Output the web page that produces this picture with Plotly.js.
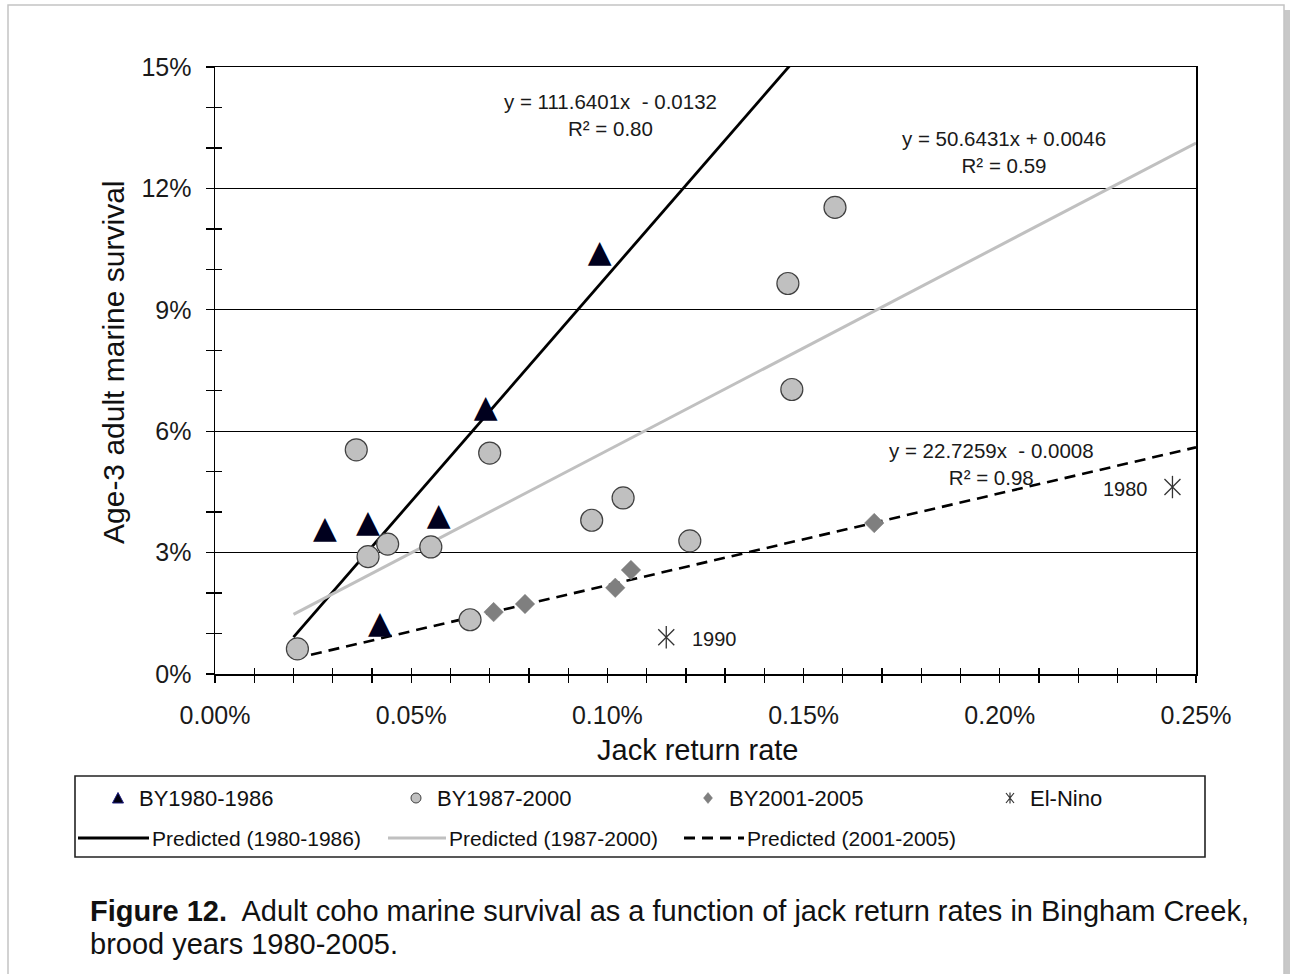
<!DOCTYPE html>
<html>
<head>
<meta charset="utf-8">
<script src="https://cdn.plot.ly/plotly-3.0.1.min.js"></script>
<style>html,body{margin:0;padding:0;background:#fff;}#chart{width:1294px;height:974px;}</style>
</head>
<body>
<div id="chart"></div>
<script>
// ---- data ----
var by8086_x = [0.00028, 0.00039, 0.00042, 0.00057, 0.00069, 0.00098];
var by8086_y = [0.0355, 0.0370, 0.0120, 0.0387, 0.0655, 0.1038];

var by8700_x = [0.00021, 0.00036, 0.00039, 0.00044, 0.00055, 0.00065, 0.00070, 0.00096, 0.00104, 0.00121, 0.00146, 0.00147, 0.00158];
var by8700_y = [0.0062, 0.0554, 0.0290, 0.0321, 0.0314, 0.0134, 0.0546, 0.0380, 0.0435, 0.0329, 0.0965, 0.0703, 0.1153];

var by0105_x = [0.00071, 0.00079, 0.00102, 0.00106, 0.00168];
var by0105_y = [0.0153, 0.0173, 0.0213, 0.0257, 0.0373];

var elnino_x = [0.00115, 0.00244];
var elnino_y = [0.0091, 0.0462];
var elnino_labels = ['1990', '1980'];

var trend_names = ['Predicted (1980-1986)', 'Predicted (1987-2000)', 'Predicted (2001-2005)'];
var trend_slope = [111.6401, 50.6431, 22.7259];
var trend_icpt = [-0.0132, 0.0046, -0.0008];
var trend_r2 = ['0.80', '0.59', '0.98'];
var trend_eq = ['y = 111.6401x  - 0.0132', 'y = 50.6431x + 0.0046', 'y = 22.7259x  - 0.0008'];
var trend_xrange = [0.0002, 0.0025];

var legend_labels = ['BY1980-1986', 'BY1987-2000', 'BY2001-2005', 'El-Nino'];

var x_title = 'Jack return rate';
var y_title = 'Age-3 adult marine survival';
var caption1 = '<b>Figure 12.</b>  Adult coho marine survival as a function of jack return rates in Bingham Creek,';
var caption2 = 'brood years 1980-2005.';

// ---- layout helpers (pixel -> paper) ----
var L = 215, R = 1196, T = 67, B = 674;
function PX(px) { return (px - L) / (R - L); }
function PY(py) { return (B - py) / (B - T); }

var FONT = 'Liberation Sans, Arial, sans-serif';

var traces = [];
var lineStyles = [
  {color: '#000000', width: 2.8, dash: 'solid'},
  {color: '#c0c0c0', width: 3, dash: 'solid'},
  {color: '#000000', width: 2.6, dash: '11px,7px'}
];
for (var i = 0; i < 3; i++) {
  var xs = trend_xrange.slice();
  var ys = xs.map(function (x) { return trend_slope[i] * x + trend_icpt[i]; });
  traces.push({x: xs, y: ys, mode: 'lines', name: trend_names[i], line: lineStyles[i], hoverinfo: 'skip'});
}
traces.push({x: by8700_x, y: by8700_y, mode: 'markers', name: legend_labels[1],
  marker: {symbol: 'circle', size: 22, color: '#c0c0c0', line: {color: '#404040', width: 1.2}}});
traces.push({x: by0105_x, y: by0105_y, mode: 'markers', name: legend_labels[2],
  marker: {symbol: 'diamond', size: 15, color: '#7f7f7f', line: {color: '#7f7f7f', width: 0.5}}});
// triangles drawn as a filled glyph (Excel-like equilateral triangle), positioned by the axes
traces.push({x: by8086_x, y: by8086_y, mode: 'text', name: legend_labels[0],
  text: by8086_x.map(function () { return '▲'; }), textposition: 'middle center',
  textfont: {family: 'DejaVu Sans', size: 31, color: '#00001e'}, hoverinfo: 'skip', cliponaxis: false});
traces.push({x: elnino_x, y: elnino_y, mode: 'markers', name: legend_labels[3],
  marker: {symbol: 'x-thin-open', size: 16, color: '#333', line: {color: '#333', width: 1.3}}});
traces.push({x: elnino_x, y: elnino_y, mode: 'markers', showlegend: false,
  marker: {symbol: 'line-ns-open', size: 16, color: '#333', line: {color: '#333', width: 1.3}}});
// invisible trace to activate overlay axes (inside half of crossing ticks)
traces.push({x: [null], y: [null], xaxis: 'x2', yaxis: 'y2', mode: 'markers', showlegend: false, hoverinfo: 'skip'});

var annotations = [];
var eqPos = [[0.001009, 0.1381], [0.002011, 0.1290], [0.00198, 0.0519]];
for (var j = 0; j < 3; j++) {
  annotations.push({x: eqPos[j][0], y: eqPos[j][1], xref: 'x', yref: 'y', showarrow: false,
    xanchor: 'center', yanchor: 'middle', align: 'center',
    text: trend_eq[j] + '<br>R² = ' + trend_r2[j], font: {family: FONT, size: 20.5, color: '#1a1a1a'}});
}
annotations.push({x: elnino_x[0], y: elnino_y[0], xref: 'x', yref: 'y', showarrow: false,
  xanchor: 'left', yanchor: 'middle', xshift: 24, yshift: -2, text: elnino_labels[0],
  font: {family: FONT, size: 20, color: '#1a1a1a'}});
annotations.push({x: elnino_x[1], y: elnino_y[1], xref: 'x', yref: 'y', showarrow: false,
  xanchor: 'right', yanchor: 'middle', xshift: -22, yshift: -2, text: elnino_labels[1],
  font: {family: FONT, size: 20, color: '#1a1a1a'}});

// axis titles
annotations.push({x: PX(697), y: PY(750), xref: 'paper', yref: 'paper', showarrow: false,
  xanchor: 'center', yanchor: 'middle', text: x_title, font: {family: FONT, size: 29, color: '#111'}});
annotations.push({x: PX(113), y: PY(362), xref: 'paper', yref: 'paper', showarrow: false, textangle: -90,
  xanchor: 'center', yanchor: 'middle', text: y_title, font: {family: FONT, size: 30, color: '#111'}});

// caption
annotations.push({x: PX(88), y: PY(911), xref: 'paper', yref: 'paper', showarrow: false,
  xanchor: 'left', yanchor: 'middle', align: 'left', text: caption1,
  font: {family: FONT, size: 29, color: '#111'}});
annotations.push({x: PX(88), y: PY(944), xref: 'paper', yref: 'paper', showarrow: false,
  xanchor: 'left', yanchor: 'middle', align: 'left', text: caption2,
  font: {family: FONT, size: 29, color: '#111'}});

// manual legend
var row1 = 798, row2 = 838;
var row1TextX = [137, 435, 727, 1028];
for (var k = 0; k < 4; k++) {
  annotations.push({x: PX(row1TextX[k]), y: PY(row1), xref: 'paper', yref: 'paper', showarrow: false,
    xanchor: 'left', yanchor: 'middle', text: legend_labels[k], font: {family: FONT, size: 22, color: '#111'}});
}
var row2TextX = [150, 447, 745];
for (var m = 0; m < 3; m++) {
  annotations.push({x: PX(row2TextX[m]), y: PY(row2), xref: 'paper', yref: 'paper', showarrow: false,
    xanchor: 'left', yanchor: 'middle', text: trend_names[m], font: {family: FONT, size: 21, color: '#111'}});
}

var shapes = [];
// page frame with shadow
shapes.push({type: 'rect', xref: 'paper', yref: 'paper', x0: PX(1284), x1: PX(1290), y0: PY(990), y1: PY(10),
  line: {width: 0}, fillcolor: '#c8c8c8', layer: 'below'});
shapes.push({type: 'rect', xref: 'paper', yref: 'paper', x0: PX(8), x1: PX(1284), y0: PY(990), y1: PY(5),
  line: {width: 1.5, color: '#c4c4c4'}, fillcolor: '#ffffff', layer: 'below'});
// legend box
shapes.push({type: 'rect', xref: 'paper', yref: 'paper', x0: PX(75), x1: PX(1205), y0: PY(857), y1: PY(776),
  line: {width: 1.6, color: '#222'}, fillcolor: 'rgba(0,0,0,0)'});
// legend markers (pixel-sized around anchors)
function pixShape(pxX, pxY, path, fill, lc, lw) {
  return {type: 'path', xref: 'paper', yref: 'paper', xsizemode: 'pixel', ysizemode: 'pixel',
    xanchor: PX(pxX), yanchor: PY(pxY), path: path, fillcolor: fill, line: {color: lc, width: lw}};
}
shapes.push(pixShape(118, row1, 'M-5.5,-5 L5.5,-5 L0,5.5 Z', '#000010', '#1c1c80', 1));
shapes.push({type: 'circle', xref: 'paper', yref: 'paper', xsizemode: 'pixel', ysizemode: 'pixel',
  xanchor: PX(416), yanchor: PY(row1), x0: -5, x1: 5, y0: -5, y1: 5, fillcolor: '#c0c0c0', line: {color: '#404040', width: 1}});
shapes.push(pixShape(708, row1, 'M0,-5.5 L4.5,0 L0,5.5 L-4.5,0 Z', '#7f7f7f', '#7f7f7f', 0.5));
shapes.push(pixShape(1010, row1, 'M-4,-5 L4,5 M-4,5 L4,-5 M0,-5.5 L0,5.5', 'rgba(0,0,0,0)', '#333', 1.2));
// legend line samples
var sampleX = [[78, 149], [388, 446], [684, 744]];
var sampleStyle = [
  {color: '#000', width: 3, dash: 'solid'},
  {color: '#c0c0c0', width: 3, dash: 'solid'},
  {color: '#000', width: 3, dash: '11px,7px'}
];
for (var s = 0; s < 3; s++) {
  shapes.push({type: 'line', xref: 'paper', yref: 'paper', x0: PX(sampleX[s][0]), x1: PX(sampleX[s][1]),
    y0: PY(row2), y1: PY(row2), line: sampleStyle[s]});
}

var layout = {
  width: 1294, height: 974,
  margin: {l: L, r: 1294 - R, t: T, b: 974 - B, pad: 0},
  paper_bgcolor: '#ffffff', plot_bgcolor: 'rgba(0,0,0,0)',
  showlegend: false,
  font: {family: FONT, color: '#1a1a1a'},
  xaxis: {
    range: [0, 0.0025], tick0: 0, dtick: 0.0005, tickformat: '.2%',
    ticks: 'outside', ticklen: 7, tickwidth: 1.3, tickcolor: '#000',
    minor: {dtick: 0.0001, ticks: 'outside', ticklen: 7, tickwidth: 1.3, tickcolor: '#000', showgrid: false},
    showline: true, linecolor: '#000', linewidth: 1.5, mirror: true,
    showgrid: false, zeroline: false,
    tickfont: {family: FONT, size: 25, color: '#1a1a1a'},
    ticklabelstandoff: 11
  },
  yaxis: {
    range: [0, 0.15], tick0: 0, dtick: 0.03, tickformat: '.0%',
    ticks: 'outside', ticklen: 8, tickwidth: 1.3, tickcolor: '#000',
    minor: {dtick: 0.01, ticks: 'outside', ticklen: 8, tickwidth: 1.3, tickcolor: '#000', showgrid: false},
    showline: true, linecolor: '#000', linewidth: 1.5, mirror: true,
    showgrid: true, gridcolor: '#000', gridwidth: 1.2, zeroline: false,
    tickfont: {family: FONT, size: 25, color: '#1a1a1a'},
    ticklabelstandoff: 9
  },
  xaxis2: {
    overlaying: 'x', anchor: 'y2', range: [0, 0.0025], tick0: 0, dtick: 0.0005,
    ticks: 'inside', ticklen: 6, tickwidth: 1.3, tickcolor: '#000', showticklabels: false,
    minor: {dtick: 0.0001, ticks: 'inside', ticklen: 6, tickwidth: 1.3, tickcolor: '#000', showgrid: false},
    showgrid: false, zeroline: false, showline: false
  },
  yaxis2: {
    overlaying: 'y', anchor: 'x2', range: [0, 0.15], tick0: 0, dtick: 0.03,
    ticks: 'inside', ticklen: 7, tickwidth: 1.3, tickcolor: '#000', showticklabels: false,
    minor: {dtick: 0.01, ticks: 'inside', ticklen: 7, tickwidth: 1.3, tickcolor: '#000', showgrid: false},
    showgrid: false, zeroline: false, showline: false
  },
  annotations: annotations,
  shapes: shapes
};

Plotly.newPlot('chart', traces, layout, {displayModeBar: false, staticPlot: true});
</script>
</body>
</html>
